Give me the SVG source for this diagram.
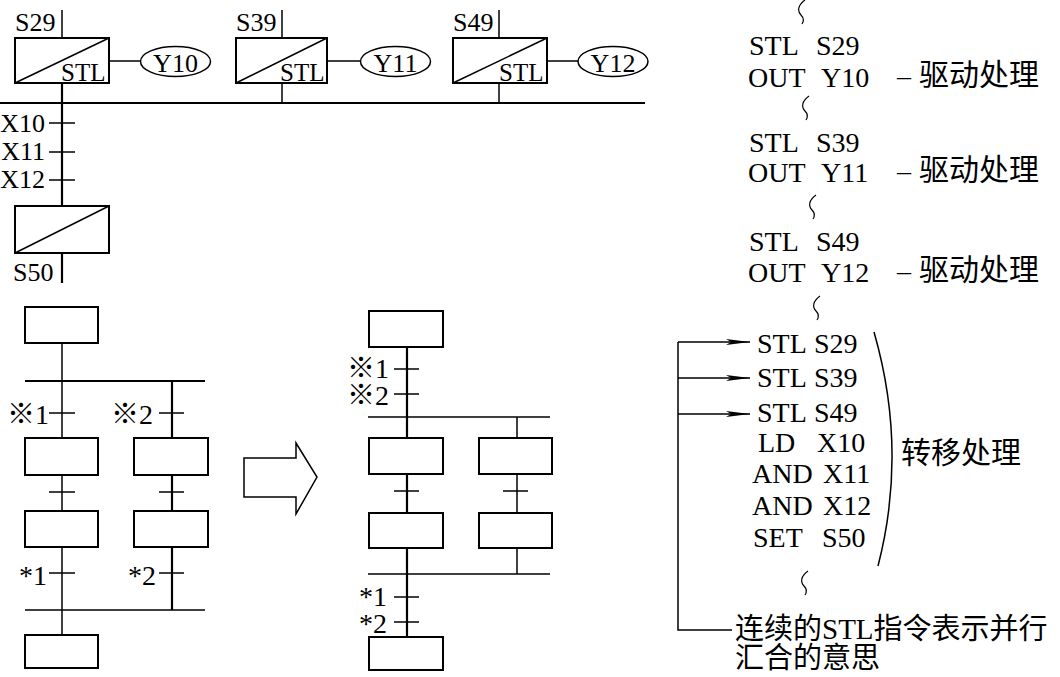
<svg xmlns="http://www.w3.org/2000/svg" width="1060" height="677" viewBox="0 0 1060 677">
<style>
.ln{stroke:#000;stroke-width:1.5;fill:none}
.tk{stroke:#000;stroke-width:2.2;fill:none}
.box{fill:#fff;stroke:#000;stroke-width:2}
.t{font-family:'Liberation Serif','Times New Roman','DejaVu Serif',serif;fill:#000}
.s25{font-size:25px}
.s26{font-size:26px}
.s28{font-size:28px}
.cj{font-family:'Noto Sans CJK SC',sans-serif}
.c30{font-family:'Noto Sans CJK SC',sans-serif;font-size:30px;fill:#000}
.c29{font-family:'Noto Sans CJK SC',sans-serif;font-size:29px;fill:#000}
.lat{font-family:'Liberation Serif','Times New Roman',serif}
</style>
<defs>
<marker id="ah" markerUnits="userSpaceOnUse" markerWidth="24" markerHeight="8" refX="24" refY="4" orient="auto">
<path d="M0,1 L24,4 L0,7 L5,4 z" fill="#000"/>
</marker>
<path id="tl" d="M8,0 C1,5 0,11 4,15 C7,18 7,21 5,24" fill="none" stroke="#000" stroke-width="1.2"/>
</defs>
<rect width="1060" height="677" fill="#fff"/>

<g id="connectors">
<line class="ln" x1="62" y1="10" x2="62" y2="38"/>
<line class="ln" x1="282" y1="10" x2="282" y2="38"/>
<line class="ln" x1="499" y1="10" x2="499" y2="38"/>
<line class="ln" x1="109" y1="61" x2="140" y2="61"/>
<line class="ln" x1="327" y1="61" x2="360" y2="61"/>
<line class="ln" x1="547" y1="61" x2="578" y2="61"/>
<line class="tk" x1="0" y1="103" x2="645" y2="103"/>
<line class="tk" x1="62" y1="83" x2="62" y2="206"/>
<line class="ln" x1="282" y1="83" x2="282" y2="103"/>
<line class="ln" x1="499" y1="83" x2="499" y2="103"/>
<line class="ln" x1="49" y1="123" x2="75" y2="123"/>
<line class="ln" x1="49" y1="152" x2="75" y2="152"/>
<line class="ln" x1="49" y1="180" x2="75" y2="180"/>
<line class="tk" x1="62" y1="253" x2="62" y2="283"/>

<line class="ln" x1="62" y1="343" x2="62" y2="438"/>
<line class="tk" x1="25" y1="381" x2="205" y2="381"/>
<line class="tk" x1="172" y1="381" x2="172" y2="438"/>
<line class="ln" x1="49" y1="413" x2="75" y2="413"/>
<line class="ln" x1="159" y1="413" x2="184" y2="413"/>
<line class="ln" x1="62" y1="475" x2="62" y2="511"/>
<line class="tk" x1="172" y1="475" x2="172" y2="511"/>
<line class="ln" x1="49" y1="492" x2="75" y2="492"/>
<line class="ln" x1="159" y1="492" x2="184" y2="492"/>
<line class="ln" x1="62" y1="547" x2="62" y2="635"/>
<line class="tk" x1="172" y1="547" x2="172" y2="610"/>
<line class="ln" x1="49" y1="573" x2="75" y2="573"/>
<line class="ln" x1="159" y1="573" x2="184" y2="573"/>
<line class="ln" x1="25" y1="610" x2="205" y2="610"/>

<line class="tk" x1="407" y1="347" x2="407" y2="637"/>
<line class="ln" x1="394" y1="369" x2="419" y2="369"/>
<line class="ln" x1="394" y1="394" x2="419" y2="394"/>
<line class="ln" x1="368" y1="417" x2="550" y2="417"/>
<line class="ln" x1="517" y1="417" x2="517" y2="438"/>
<line class="ln" x1="394" y1="491" x2="419" y2="491"/>
<line class="ln" x1="517" y1="474" x2="517" y2="513"/>
<line class="ln" x1="503" y1="491" x2="528" y2="491"/>
<line class="ln" x1="517" y1="548" x2="517" y2="574"/>
<line class="ln" x1="368" y1="574" x2="550" y2="574"/>
<line class="ln" x1="394" y1="597" x2="419" y2="597"/>
<line class="ln" x1="394" y1="622" x2="419" y2="622"/>

<polyline class="ln" points="732,630 678,630 678,342"/>
<line class="ln" x1="678" y1="342" x2="750" y2="342" marker-end="url(#ah)"/>
<line class="ln" x1="678" y1="378" x2="750" y2="378" marker-end="url(#ah)"/>
<line class="ln" x1="678" y1="414" x2="750" y2="414" marker-end="url(#ah)"/>
</g>

<g id="s29">
<rect class="box" x="15" y="38" width="94" height="45"/>
<line class="ln" x1="15" y1="83" x2="109" y2="38"/>
<text class="t s25" x="61" y="81">STL</text>
<text class="t s26" x="15" y="31">S29</text>
</g>
<g id="y10">
<ellipse class="ln" cx="175.5" cy="61.5" rx="35" ry="15"/>
<text class="t s26" x="175.5" y="72" text-anchor="middle">Y10</text>
</g>
<g id="s39">
<rect class="box" x="236" y="38" width="91" height="45"/>
<line class="ln" x1="236" y1="83" x2="327" y2="38"/>
<text class="t s25" x="280" y="81">STL</text>
<text class="t s26" x="236" y="31">S39</text>
</g>
<g id="y11">
<ellipse class="ln" cx="395.5" cy="61.5" rx="35" ry="15"/>
<text class="t s26" x="395.5" y="72" text-anchor="middle">Y11</text>
</g>
<g id="s49">
<rect class="box" x="453" y="38" width="94" height="45"/>
<line class="ln" x1="453" y1="83" x2="547" y2="38"/>
<text class="t s25" x="499" y="81">STL</text>
<text class="t s26" x="453" y="31">S49</text>
</g>
<g id="y12">
<ellipse class="ln" cx="613" cy="61.5" rx="35" ry="15"/>
<text class="t s26" x="613" y="72" text-anchor="middle">Y12</text>
</g>
<g id="contacts">
<text class="t s26" x="45" y="132" text-anchor="end">X10</text>
<text class="t s26" x="45" y="160" text-anchor="end">X11</text>
<text class="t s26" x="45" y="188" text-anchor="end">X12</text>
</g>
<g id="s50">
<rect class="box" x="15" y="206" width="94" height="47"/>
<line class="ln" x1="15" y1="253" x2="109" y2="206"/>
<text class="t s26" x="13" y="281">S50</text>
</g>

<g id="L-top"><rect class="box" x="25" y="307" width="73" height="36"/></g>
<g id="L-a1"><rect class="box" x="25" y="438" width="73" height="37"/></g>
<g id="L-b1"><rect class="box" x="134" y="438" width="74" height="37"/></g>
<g id="L-a2"><rect class="box" x="25" y="511" width="73" height="36"/></g>
<g id="L-b2"><rect class="box" x="134" y="511" width="74" height="36"/></g>
<g id="L-bot"><rect class="box" x="25" y="635" width="73" height="33"/></g>
<g id="L-labels">
<text class="t s28" x="7" y="424"><tspan class="cj">※</tspan>1</text>
<text class="t s28" x="111" y="424"><tspan class="cj">※</tspan>2</text>
<text class="t s28" x="19" y="585">*1</text>
<text class="t s28" x="128" y="585">*2</text>
</g>

<g id="big-arrow">
<polygon points="244,458 296,458 296,443 317,477 296,514 296,497 244,497" fill="#fff" stroke="#000" stroke-width="1.5"/>
</g>

<g id="M-top"><rect class="box" x="369" y="311" width="74" height="36"/></g>
<g id="M-a1"><rect class="box" x="369" y="438" width="74" height="36"/></g>
<g id="M-b1"><rect class="box" x="479" y="438" width="73" height="36"/></g>
<g id="M-a2"><rect class="box" x="369" y="513" width="74" height="35"/></g>
<g id="M-b2"><rect class="box" x="479" y="513" width="73" height="35"/></g>
<g id="M-bot"><rect class="box" x="369" y="637" width="74" height="33"/></g>
<g id="M-labels">
<text class="t s28" x="347" y="378"><tspan class="cj">※</tspan>1</text>
<text class="t s28" x="347" y="405"><tspan class="cj">※</tspan>2</text>
<text class="t s28" x="359" y="606">*1</text>
<text class="t s28" x="359" y="633">*2</text>
</g>

<g id="program-top">
<use href="#tl" x="797" y="0"/>
<text class="t s28" y="55"><tspan x="749">STL</tspan><tspan x="816">S29</tspan></text>
<text class="t s28" y="87"><tspan x="748">OUT</tspan><tspan x="821">Y10</tspan></text>
<text class="t s28" x="897" y="85">–</text>
<text class="c30" x="919" y="85">驱动处理</text>
<use href="#tl" x="801" y="96"/>
<text class="t s28" y="152"><tspan x="749">STL</tspan><tspan x="816">S39</tspan></text>
<text class="t s28" y="182"><tspan x="748">OUT</tspan><tspan x="821">Y11</tspan></text>
<text class="t s28" x="897" y="180">–</text>
<text class="c30" x="919" y="180">驱动处理</text>
<use href="#tl" x="808" y="195"/>
<text class="t s28" y="251"><tspan x="749">STL</tspan><tspan x="816">S49</tspan></text>
<text class="t s28" y="282"><tspan x="748">OUT</tspan><tspan x="821">Y12</tspan></text>
<text class="t s28" x="897" y="280">–</text>
<text class="c30" x="919" y="280">驱动处理</text>
<use href="#tl" x="812" y="296"/>
</g>
<g id="program-transfer">
<text class="t s28" y="353"><tspan x="757">STL</tspan><tspan x="814">S29</tspan></text>
<text class="t s28" y="387"><tspan x="757">STL</tspan><tspan x="814">S39</tspan></text>
<text class="t s28" y="422"><tspan x="757">STL</tspan><tspan x="814">S49</tspan></text>
<text class="t s28" y="452"><tspan x="758">LD</tspan><tspan x="817">X10</tspan></text>
<text class="t s28" y="483"><tspan x="752">AND</tspan><tspan x="823">X11</tspan></text>
<text class="t s28" y="515"><tspan x="752">AND</tspan><tspan x="823">X12</tspan></text>
<text class="t s28" y="547"><tspan x="753">SET</tspan><tspan x="822">S50</tspan></text>
<path class="ln" d="M874,332 Q908,450 878,566"/>
<text class="c30" x="901" y="463">转移处理</text>
<use href="#tl" x="800" y="571"/>
</g>
<g id="note">
<text class="c29" x="735" y="639">连续的<tspan class="lat">STL</tspan>指令表示并行</text>
<text class="c29" x="735" y="668">汇合的意思</text>
</g>
</svg>
